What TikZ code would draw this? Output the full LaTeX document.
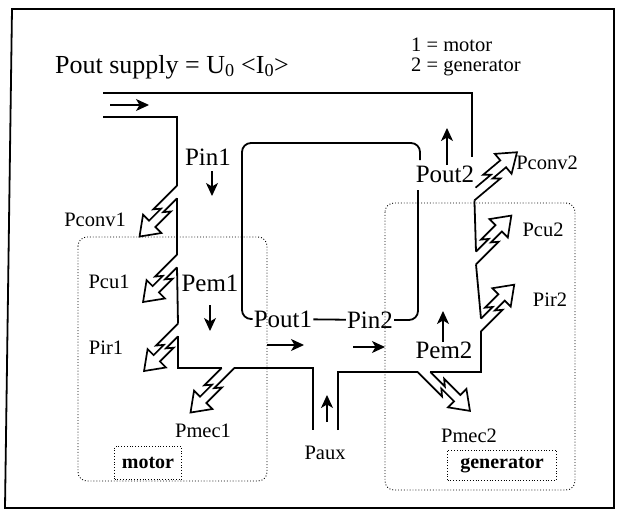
\documentclass[tikz,border=0pt]{standalone}
\usepackage{fontspec}
\setmainfont{Liberation Serif}
\usetikzlibrary{arrows.meta}
\tikzset{
  band/.style={line width=1.8pt},
  outline/.style={line width=1.7pt, line join=miter},
  dir/.style={line width=1.2pt, -{Stealth[length=13pt,width=12pt,inset=3.5pt]}},
  big/.style={font=\fontsize{25}{27}\selectfont, inner sep=1pt},
  small/.style={font=\fontsize{20.5}{22}\selectfont, inner sep=1pt},
  tag/.style={draw, dotted, line width=0.8pt, font=\fontsize{20}{22}\selectfont\bfseries,
              minimum width=67pt, minimum height=33pt},
  unitbox/.style={draw, dotted, line width=0.9pt, rounded corners=9pt},
  pics/zzarrow/.style 2 args={code={
    \draw[outline] ({#2*4.5},4.5) -- ({0.5*#1},4.5) -- ({0.5*#1-6},-0.5) -- ({#1-18},-0.5)
      -- ({#1-18},8) -- (#1,-5) -- ({#1-18},-18) -- ({#1-18},-9.5) -- ({0.5*#1-11},-9.5)
      -- ({0.5*#1-5},-4.5) -- ({-1*(#2)*4.5},-4.5);
    \coordinate (-a) at ({#2*4.5},4.5);
    \coordinate (-b) at ({-1*(#2)*4.5},-4.5);
  }}
}

\begin{document}
\begin{tikzpicture}[x=1pt,y=-1pt]
  \useasboundingbox (0,0) rectangle (619,511);
  \draw[line width=1.8pt] (12,9) -- (614,9) -- (614,508) -- (5,508) -- cycle;

  % motor and generator areas
  \draw[unitbox] (78,237) rectangle (267,481);
  \draw[unitbox] (385,203) rectangle (575,490);

  % texts
  \node[big, font=\fontsize{26}{28}\selectfont] (title) at (172,67) {Pout supply = U\textsubscript{0} <I\textsubscript{0}>};
  \node[small, anchor=west] (leg1) at (410,45) {1 = motor};
  \node[small, anchor=west] (leg2) at (410,67) {2 = generator};
  \node[big] (pin1) at (208,157) {Pin1};
  \node[small] (pconv1) at (95,220) {Pconv1};
  \node[small] (pcu1) at (109,282) {Pcu1};
  \node[big] (pem1) at (210,283) {Pem1};
  \node[small] (pir1) at (106,348) {Pir1};
  \node[small] (pmec1) at (203,431) {Pmec1};
  \node[tag] (motor) at (148,463) {motor};
  \node[small] (paux) at (325,453) {Paux};
  \node[big] (pout1) at (283,319) {Pout1};
  \node[big] (pin2) at (370,320) {Pin2};
  \node[big] (pout2) at (445,174) {Pout2};
  \node[small] (pconv2) at (547,163) {Pconv2};
  \node[small] (pcu2) at (543,230) {Pcu2};
  \node[small] (pir2) at (550,300) {Pir2};
  \node[big] (pem2) at (444,350) {Pem2};
  \node[small] (pmec2) at (469,436) {Pmec2};
  \node[tag, minimum width=109pt, minimum height=30pt] (gen) at (502,465) {generator};

  % loss arrows
  \foreach \nm/\px/\py/\ang/\len/\k in {cv1/177/192/225/58/-1, cu1/177/261/225/53/-1,
      ir1/178/330/225/53/-1, me1/228/368/225/58/1, me2/424/372/-45/60/-1,
      ir2/481/325/45/52/-1, cu2/476/258/45/55/-1, cv2/475/194/40/59/-1}
    \pic[rotate=\ang] (\nm) at (\px,\py) {zzarrow={\len}{\k}};

  % power band
  \draw[line width=2.5pt] (103,93) -- (472,93) -- (472,157);
  \draw[band] (103,117) -- (177,117) -- (cv1-a);
  \draw[band] (cv1-b) -- (cu1-a);
  \draw[band] (cu1-b) -- (ir1-a);
  \draw[band] (ir1-b) |- (me1-a);
  \draw[band] (me1-b) -- (313,368) -- (313,430);
  \draw[band] (338,430) -- (338,372) -- (me2-a);
  \draw[band] (me2-b) -| (ir2-a);
  \draw[band] (ir2-b) -- (cu2-a);
  \draw[band] (cu2-b) -- (cv2-a);

  % inner loop
  \draw[band, rounded corners=9pt] (pout1.west) -| (242,143) -| (420,160);
  \draw[band, rounded corners=9pt] (418,190) |- (pin2.east);
  \draw[band] (pout1) -- (pin2);

  % flow directions
  \draw[dir] (110,105) -- (149,105);
  \draw[dir] (212,171) -- (212,196);
  \draw[dir] (210,305) -- (210,331);
  \draw[dir] (267,345) -- (304,345);
  \draw[dir] (353,347) -- (385,347);
  \draw[dir] (447,165) -- (447,128);
  \draw[dir] (443,342) -- (443,311);
  \draw[dir] (327,422) -- (327,395);
\end{tikzpicture}
\end{document}
